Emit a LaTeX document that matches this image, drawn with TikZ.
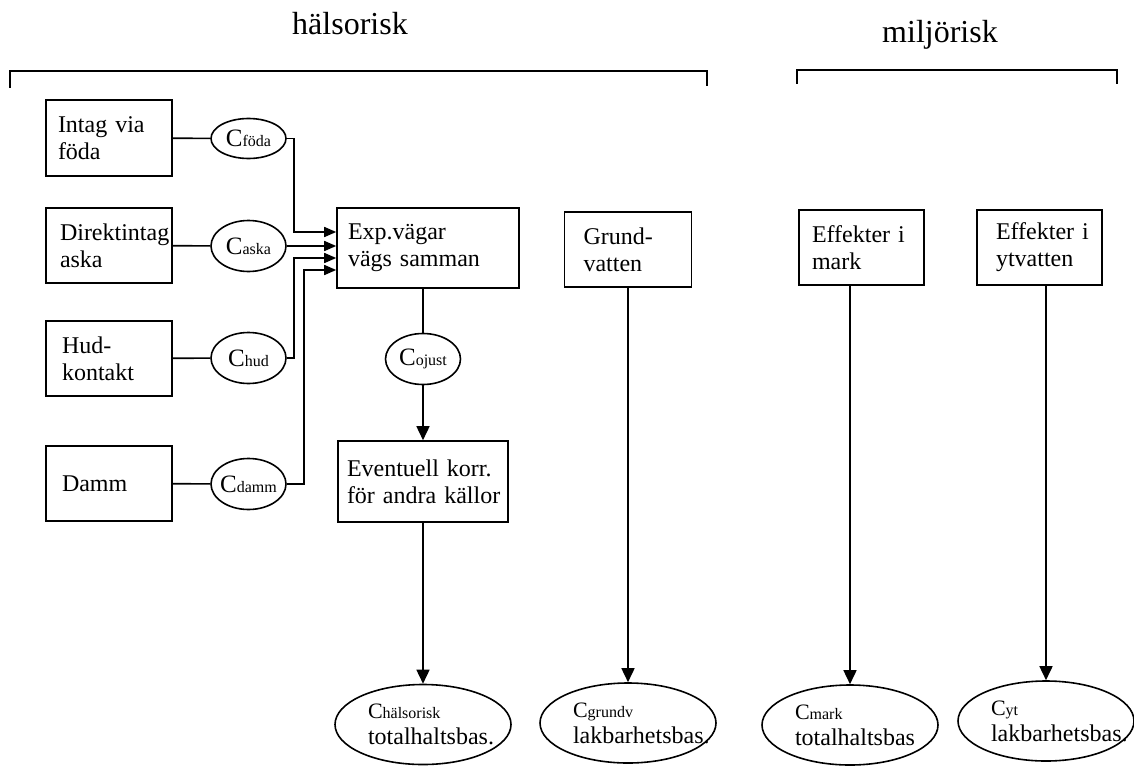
\documentclass[tikz,border=0pt]{standalone}
\usepackage{fontspec}
\setmainfont{Liberation Serif}
\usetikzlibrary{arrows.meta,shapes.geometric}

\newcommand{\cind}[1]{{\fontsize{8}{9}\selectfont #1}}
\hyphenpenalty=10000
\exhyphenpenalty=10000

\begin{document}
\begin{tikzpicture}[x=0.5pt,y=-0.5pt,line width=.8pt,
  every node/.style={font=\fontsize{12}{13.5}\selectfont},
  box/.style={draw,rectangle,align=left,inner ysep=0pt},
  cval/.style={draw,ellipse,inner ysep=0pt,inner xsep=-1pt,minimum width=37.5pt,minimum height=25.5pt,font=\fontsize{12.5}{14}\selectfont},
  cbas/.style={draw,ellipse,inner sep=0pt,text width=55pt,align=left,minimum width=88pt,minimum height=40pt,font=\fontsize{12}{13}\selectfont},
  >={Triangle[length=7pt,width=6.5pt]},
  inarr/.style={-{Triangle[length=6pt,width=5pt]}}]
\useasboundingbox (0,0) rectangle (1134,765);

\node[anchor=base,font=\fontsize{16}{18}\selectfont] (hals) at (350,35) {hälsorisk};
\node[anchor=base,font=\fontsize{16}{18}\selectfont] (miljo) at (940,43) {miljörisk};
\draw (10,88) -- (10,71) -- (707,71) -- (707,86);
\draw (797,84) -- (797,70) -- (1117,70) -- (1117,84);

\node[box,text width=51pt,inner xsep=6pt,minimum height=38pt] (intag) at (109,138) {Intag~via\\föda};
\node[box,text width=49pt,inner xsep=7pt,minimum height=37.5pt] (direkt) at (109,245.5) {Direktintag\\aska};
\node[box,text width=47pt,inner xsep=8pt,minimum height=37.5pt] (hud) at (109,358.5) {Hud-\\kontakt};
\node[box,text width=47pt,inner xsep=8pt,minimum height=37.5pt] (damm) at (109,483.5) {Damm};

\node[cval,minimum height=20pt] (cfoda) at (248.5,138.5) {C\cind{föda}};
\node[cval] (caska) at (248.5,246) {C\cind{aska}};
\node[cval] (chud) at (248.5,358) {C\cind{hud}};
\node[cval] (cdamm) at (248.5,484) {C\cind{damm}};

\node[box,text width=80pt,inner xsep=5.5pt,minimum height=40pt] (exp) at (428,248) {Exp.vägar\\vägs~samman};
\node[cval] (cojust) at (423,359) {C\cind{ojust}};
\node[box,text width=76pt,inner xsep=4.5pt,minimum height=40.5pt] (event) at (423,481.5) {Eventuell~korr.\\för~andra~källor};
\node[box,text width=44.5pt,inner xsep=9.5pt,minimum height=37.5pt] (grund) at (628,249.5) {Grund-\\vatten};
\node[box,text width=49.5pt,inner xsep=6.5pt,minimum height=37.5pt] (mark) at (861.5,247.5) {Effekter~i\\mark};
\node[box,text width=43.5pt,inner xsep=9.5pt,minimum height=37.5pt] (ytv) at (1039.5,247.5) {Effekter~i\\ytvatten};

\node[cbas] (chals) at (423,724.5) {{\fontsize{11}{13}\selectfont C}\cind{hälsorisk}\\totalhaltsbas.};
\node[cbas] (cgrundv) at (628,723) {{\fontsize{11}{13}\selectfont C}\cind{grundv}\\lakbarhetsbas.};
\node[cbas] (cmark) at (850,725) {{\fontsize{11}{13}\selectfont C}\cind{mark}\\totalhaltsbas};
\node[cbas] (cyt) at (1046,721) {{\fontsize{11}{13}\selectfont C}\cind{yt}\\lakbarhetsbas.};

\coordinate (in1) at ([yshift=8pt]exp.west);
\coordinate (in2) at ([yshift=1pt]exp.west);
\coordinate (in3) at ([yshift=-5pt]exp.west);
\coordinate (in4) at ([yshift=-11pt]exp.west);

\draw (intag) -- (cfoda);
\draw (direkt) -- (caska);
\draw (hud) -- (chud);
\draw (damm) -- (cdamm);
\draw[inarr] (cfoda.east) -- ++(7,0) |- (in1);
\draw[inarr] (caska.east) -- (in2);
\draw[inarr] (chud.east) -- ++(7,0) |- (in3);
\draw[inarr] (cdamm.east) -- ++(17,0) |- (in4);

\draw (cojust.north |- exp.south) -- (cojust.north);
\draw[->] (cojust.south) -- (cojust.south |- event.north);
\draw[->] (event.south) -- (chals.north);
\draw[->] (grund.south) -- (cgrundv.north);
\draw[->] (cmark.north |- mark.south) -- (cmark.north);
\draw[->] (cyt.north |- ytv.south) -- (cyt.north);
\end{tikzpicture}
\end{document}
